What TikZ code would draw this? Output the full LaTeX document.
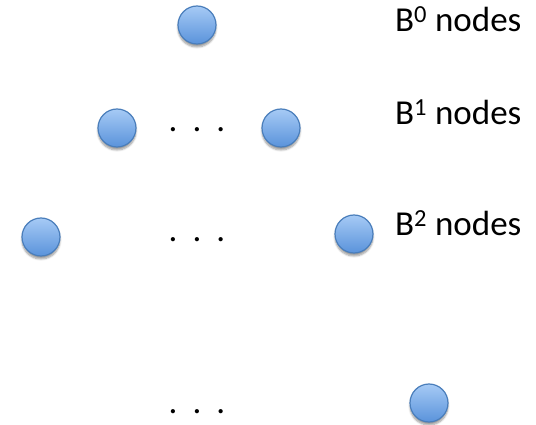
\documentclass[tikz,border=0pt]{standalone}
\usepackage{fontspec}
\setmainfont{Carlito}
\usetikzlibrary{shadows.blur}

\definecolor{nodetop}{HTML}{A6CAF5}
\definecolor{nodebottom}{HTML}{5A93DB}
\definecolor{nodeedge}{HTML}{4A7EBB}

\begin{document}
\begin{tikzpicture}[x=1pt, y=-1pt,
    bnode/.style={circle, draw=nodeedge, line width=1.2pt, minimum size=38pt, inner sep=0pt,
      top color=nodetop, bottom color=nodebottom,
      blur shadow={shadow xshift=0pt, shadow yshift=-3pt, shadow blur steps=6, shadow opacity=40}},
    level/.style={anchor=base west, inner sep=0pt, font=\fontsize{35}{42}\selectfont},
    dots/.style={anchor=base, inner sep=0pt, font=\fontsize{35}{42}\selectfont}]
      \useasboundingbox (0, 0) rectangle (536, 425);

      % Nodes
      \node[bnode] (root) at (197, 25) {};
      \node[bnode] (oneleft) at (117, 128) {};
      \node[bnode] (oneright) at (281, 128) {};
      \node[bnode] (twoleft) at (41, 237) {};
      \node[bnode] (tworight) at (354, 234) {};
      \node[bnode] (last) at (429, 403) {};

      % Dots
      \node[dots] (onedots) at (197, 132) {.\hspace{15pt}.\hspace{15pt}.};
      \node[dots] (twodots) at (197, 242) {.\hspace{15pt}.\hspace{15pt}.};
      \node[dots] (lastdots) at (197, 413) {.\hspace{15pt}.\hspace{15pt}.};

      % Labels
      \node[level] (zerolabel) at (395, 32) {B\textsuperscript{0} nodes};
      \node[level] (onelabel) at (395, 125) {B\textsuperscript{1} nodes};
      \node[level] (twolabel) at (395, 236) {B\textsuperscript{2} nodes};
\end{tikzpicture}
\end{document}
